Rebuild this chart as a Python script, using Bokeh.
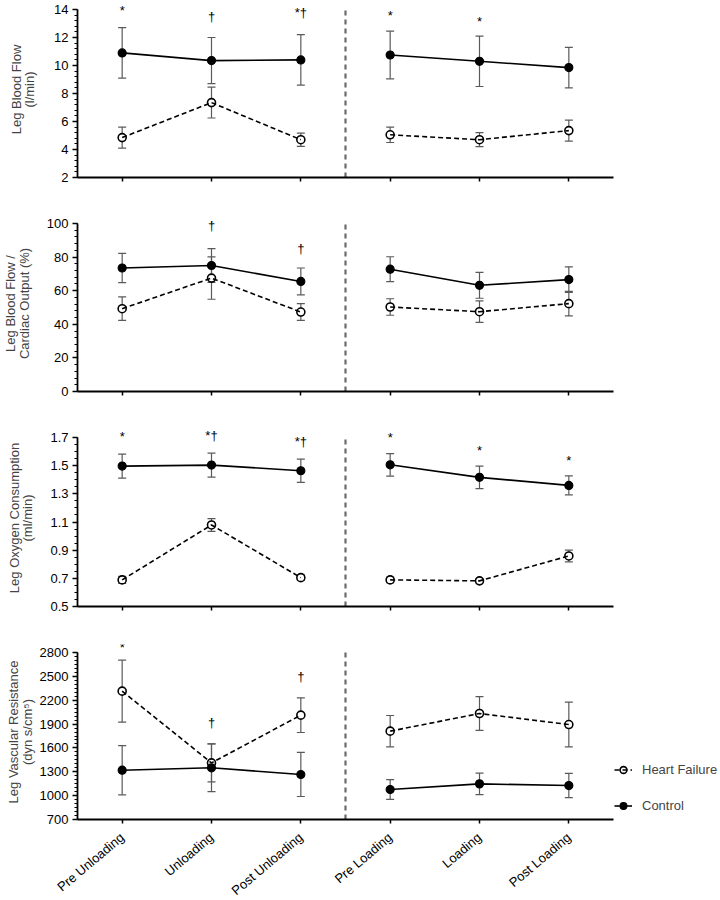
from bokeh.plotting import figure
from bokeh.models import (Range1d, FixedTicker, Label, Legend, LegendItem)
from bokeh.layouts import column
from bokeh.embed import file_html
from bokeh.resources import INLINE

# ---------------- data ----------------
categories = ["Pre Unloading", "Unloading", "Post Unloading",
              "Pre Loading", "Loading", "Post Loading"]

flow_control = [10.9, 10.35, 10.4, 10.75, 10.3, 9.85]
flow_control_err = [1.8, 1.65, 1.8, 1.7, 1.8, 1.45]
flow_hf = [4.85, 7.35, 4.7, 5.05, 4.7, 5.35]
flow_hf_err = [0.75, 1.1, 0.47, 0.55, 0.5, 0.75]
flow_sig_x = [0, 1, 2, 3, 4]
flow_sig_text = ["*", "†", "*†", "*", "*"]
flow_sig_y = [13.9, 13.5, 13.8, 13.55, 13.15]

ratio_control = [73.5, 75.0, 65.5, 72.8, 63.2, 66.6]
ratio_control_err = [8.7, 10.0, 8.0, 7.4, 7.7, 7.6]
ratio_hf = [49.3, 67.5, 47.3, 50.3, 47.5, 52.3]
ratio_hf_err = [7.0, 12.6, 5.0, 4.9, 6.4, 7.3]
ratio_sig_x = [1, 2]
ratio_sig_text = ["†", "†"]
ratio_sig_y = [98.8, 85.3]

vo2_control = [1.497, 1.504, 1.464, 1.506, 1.417, 1.36]
vo2_control_err = [0.085, 0.085, 0.083, 0.08, 0.08, 0.067]
vo2_hf = [0.689, 1.079, 0.705, 0.689, 0.682, 0.859]
vo2_hf_err = [0.025, 0.045, 0.02, 0.02, 0.015, 0.042]
vo2_sig_x = [0, 1, 2, 3, 4, 5]
vo2_sig_text = ["*", "*†", "*†", "*", "*", "*"]
vo2_sig_y = [1.707, 1.712, 1.67, 1.70, 1.606, 1.535]

res_control = [1320, 1350, 1266, 1077, 1148, 1127]
res_control_err = [310, 300, 277, 124, 136, 153]
res_hf = [2314, 1412, 2012, 1811, 2033, 1894]
res_hf_err = [390, 240, 218, 197, 212, 282]
res_sig_x = [0, 1, 2]
res_sig_text = ["*", "†", "†"]
res_sig_y = [2860, 1920, 2495]

FONT = "Liberation Sans"
ERR_COLOR = "#5a5a5a"
EXT = 8  # px of free space above the top tick (room for significance marks)


def make_panel(ylabel, ctrl, ctrl_err, hf, hf_err, ylo, yhi, ystep, nminor,
               sig_x, sig_text, sig_y, border_top, border_bottom, axis_h,
               label_standoff, last=False):
    y_end = yhi + EXT * (yhi - ylo) / axis_h
    p = figure(frame_width=536, frame_height=axis_h + EXT,
               output_backend="svg", toolbar_location=None,
               x_range=Range1d(-0.5, 5.5), y_range=Range1d(ylo, y_end),
               min_border_left=77, min_border_right=107,
               min_border_top=border_top, min_border_bottom=border_bottom)
    p.outline_line_color = None
    p.grid.visible = False
    p.background_fill_color = "white"
    p.border_fill_color = "white"

    xs = list(range(len(categories)))

    # error bars
    for vals, errs in ((hf, hf_err), (ctrl, ctrl_err)):
        lo = [v - e for v, e in zip(vals, errs)]
        hi = [v + e for v, e in zip(vals, errs)]
        p.segment(x0=xs, y0=lo, x1=xs, y1=hi, line_color=ERR_COLOR, line_width=1.2)
        p.scatter(x=xs + xs, y=lo + hi, marker="dash", size=8,
                  line_color=ERR_COLOR, line_width=1.2)

    # divider between the two protocols
    p.segment(x0=[2.5], y0=[ylo], x1=[2.5], y1=[yhi], line_color="#6a6a6a",
              line_width=2.2, line_dash="5 4")

    hf_sc = p.scatter(x=xs, y=hf, size=8, marker="circle", fill_color="white",
                      line_color="black", line_width=1.6)
    hf_ln = p.line(x=xs[:3], y=hf[:3], line_color="black", line_width=1.6,
                   line_dash="5 3")
    p.line(x=xs[3:], y=hf[3:], line_color="black", line_width=1.6,
           line_dash="5 3")
    c_sc = p.scatter(x=xs, y=ctrl, size=8, marker="circle", fill_color="black",
                     line_color="black", line_width=1.2)
    c_ln = p.line(x=xs[:3], y=ctrl[:3], line_color="black", line_width=1.6)
    p.line(x=xs[3:], y=ctrl[3:], line_color="black", line_width=1.6)

    for sx, st, sy in zip(sig_x, sig_text, sig_y):
        p.add_layout(Label(x=sx, y=sy, text=st, text_align="center",
                           text_baseline="middle", text_font=FONT,
                           text_font_size="13px", text_color="black"))

    # y axis
    nmaj = int(round((yhi - ylo) / ystep))
    majors = [round(ylo + i * ystep, 6) for i in range(nmaj + 1)]
    minors = [round(ylo + k * ystep / nminor, 6) for k in range(nmaj * nminor + 1)]
    yax = p.yaxis[0]
    yax.bounds = (ylo, yhi)
    yax.ticker = FixedTicker(ticks=majors, minor_ticks=minors)
    yax.axis_label = ylabel
    yax.axis_label_text_font = FONT
    yax.axis_label_text_font_style = "normal"
    yax.axis_label_text_font_size = "13px"
    yax.axis_label_text_line_height = 0.9
    yax.axis_label_standoff = label_standoff
    yax.major_label_text_font = FONT
    yax.major_label_text_font_size = "13px"
    yax.major_label_standoff = 4
    yax.axis_line_width = 1.8
    yax.major_tick_line_width = 1.5
    yax.minor_tick_line_width = 1.2
    yax.major_tick_out = 5
    yax.major_tick_in = 0
    yax.minor_tick_out = 3
    yax.minor_tick_in = 0
    yax.major_label_text_color = "black"

    xax = p.xaxis[0]
    xax.ticker = FixedTicker(ticks=xs, minor_ticks=[])
    xax.axis_line_width = 1.8
    xax.major_tick_line_width = 1.5
    xax.major_tick_out = 4
    xax.major_tick_in = 0
    xax.minor_tick_out = 0
    xax.minor_tick_in = 0
    if last:
        xax.major_label_overrides = {i: c for i, c in enumerate(categories)}
        xax.major_label_orientation = 0.7
        xax.major_label_text_font = FONT
        xax.major_label_text_font_size = "13px"
        xax.major_label_text_color = "black"
        xax.major_label_standoff = 12
        legend = Legend(items=[
            LegendItem(label="Heart Failure", renderers=[hf_sc, hf_ln]),
            LegendItem(label="Control", renderers=[c_sc, c_ln]),
        ], location=(0, 4))
        legend.label_text_font = FONT
        legend.label_text_font_size = "13px"
        legend.glyph_width = 18
        legend.glyph_height = 17
        legend.spacing = 19
        legend.label_standoff = 10
        legend.padding = 1
        legend.margin = 0
        legend.border_line_alpha = 0
        legend.background_fill_alpha = 0
        p.add_layout(legend, "right")
    else:
        xax.major_label_overrides = {i: "" for i in xs}
        xax.major_label_standoff = 0
    return p


p1 = make_panel("Leg Blood Flow\n(l/min)", flow_control, flow_control_err,
                flow_hf, flow_hf_err, 2, 14, 2, 5,
                flow_sig_x, flow_sig_text, flow_sig_y, 1, 20, 168, 14)
p2 = make_panel("Leg Blood Flow /\nCardiac Output (%)", ratio_control,
                ratio_control_err, ratio_hf, ratio_hf_err, 0, 100, 20, 5,
                ratio_sig_x, ratio_sig_text, ratio_sig_y, 18, 20, 168, 12)
p3 = make_panel("Leg Oxygen Consumption\n(ml/min)", vo2_control, vo2_control_err,
                vo2_hf, vo2_hf_err, 0.5, 1.7, 0.2, 4,
                vo2_sig_x, vo2_sig_text, vo2_sig_y, 18, 20, 169, 12)
p4 = make_panel("Leg Vascular Resistance\n(dyn s/cm⁵)", res_control,
                res_control_err, res_hf, res_hf_err, 700, 2800, 300, 6,
                res_sig_x, res_sig_text, res_sig_y, 18, 80, 167, 2, last=True)

layout = column(p1, p2, p3, p4, spacing=0)
open("out.html", "w").write(file_html(layout, INLINE))
